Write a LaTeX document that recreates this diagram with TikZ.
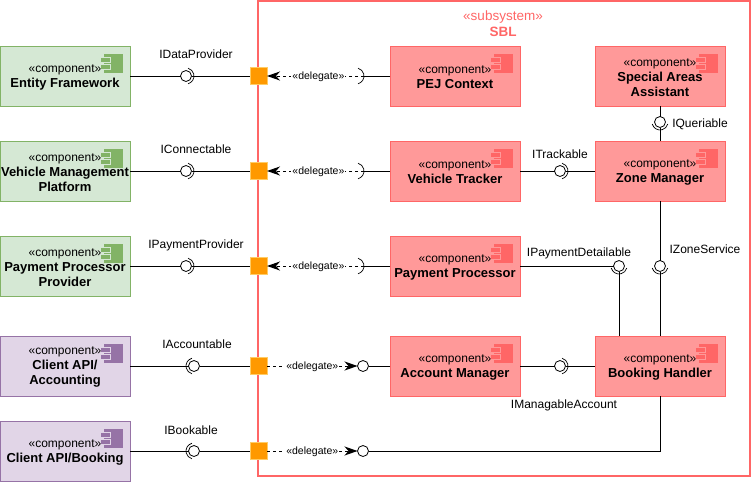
\documentclass[tikz,border=0pt]{standalone}
\usepackage{fontspec}
\setmainfont{Liberation Sans}
\usetikzlibrary{positioning,arrows.meta}

\definecolor{redfill}{HTML}{FF9999}
\definecolor{redline}{HTML}{FF6666}
\definecolor{greenfill}{HTML}{D5E8D4}
\definecolor{greenline}{HTML}{82B366}
\definecolor{purplefill}{HTML}{E1D5E7}
\definecolor{purpleline}{HTML}{9673A6}
\definecolor{portfill}{HTML}{FF9900}
\definecolor{portline}{HTML}{FFCC66}

\newcommand{\socket}[2]{\draw[line width=0.7pt] (#1.center) ++({#2-75}:8pt) arc[start angle={#2-75}, end angle={#2+75}, radius=8pt];}
\newcommand{\nm}{\fontsize{13}{15}\bfseries\selectfont}
\newcommand{\comp}[1]{\rule{0pt}{10.5pt}\guillemotleft component\guillemotright\\\nm #1}

\begin{document}
\begin{tikzpicture}[
    x=1pt, y=1pt,
    node distance=35pt and 260pt,
    line width=1pt,
    >={Stealth[length=13pt,width=9pt,inset=4pt]},
    every node/.style={font=\fontsize{12}{15}\selectfont, align=center},
    block/.style={
        draw,
        outer sep=0pt,
        minimum width=130pt,
        minimum height=60pt,
        inner sep=0pt,
        path picture={
            \coordinate (ne) at (path picture bounding box.north east);
            \fill[#1line] ([shift={(-26pt,-8pt)}]ne) rectangle ([shift={(-7pt,-27pt)}]ne);
            \foreach \ty in {-11,-18.5}
                \filldraw[#1line, draw=#1fill, line width=0.8pt] ([shift={(-30pt,\ty pt)}]ne) rectangle ([shift={(-20pt,\ty pt-5pt)}]ne);
        },
        draw=#1line, fill=#1fill
    },
    port/.style={draw=portline, fill=portfill, outer sep=0pt, inner sep=0pt, minimum size=17pt},
    iface/.style={circle, draw, fill=white, outer sep=0pt, inner sep=0pt, line width=0.8pt, minimum size=11pt},
    dlg/.style={dashed, dash pattern=on 3pt off 3pt},
    dlgtext/.style={fill=white, inner sep=1pt, yshift=-0.5pt, font=\fontsize{10.5}{12}\selectfont},
    ilabel/.style={yshift=-1pt}
]
\useasboundingbox (0,0) rectangle (752,-483);
\draw[redline, line width=2pt] (258,-1) rectangle (750,-476);
\node[text=redline, font=\fontsize{13.5}{16}\selectfont] (sbl) at (503,-24) {\guillemotleft subsystem\guillemotright\\\bfseries SBL};

% outside
\node[block=green] (entity) at (65,-76) {\comp{Entity Framework}};
\node[block=green, below=of entity] (vehicle) {\comp{Vehicle Management\\\nm Platform}};
\node[block=green, below=of vehicle] (payment) {\comp{Payment Processor\\\nm Provider}};
\node[block=purple, below=40pt of payment] (accounting) {\comp{Client API/\\\nm Accounting}};
\node[block=purple, below=25pt of accounting] (booking) {\comp{Client API/Booking}};

% inside
\node[block=red, right=of entity] (pej) {\comp{PEJ Context}};
\node[block=red, right=of vehicle] (tracker) {\comp{Vehicle Tracker}};
\node[block=red, right=of payment] (processor) {\comp{Payment Processor}};
\node[block=red, right=of accounting] (account) {\comp{Account Manager}};
\node[block=red, right=75pt of pej] (special) {\comp{Special Areas\\\nm Assistant}};
\node[block=red, right=75pt of tracker] (zone) {\comp{Zone Manager}};
\node[block=red, right=75pt of account] (handler) {\comp{Booking Handler}};

% ports
\node[port] (p1) at (258.5,-76) {};
\node[port] (p2) at (258.5,-171) {};
\node[port] (p3) at (258.5,-266) {};
\node[port] (p4) at (258.5,-366) {};
\node[port] (p5) at (258.5,-451) {};

% interfaces
\node[iface] (idata) at (186,-76) {};
\node[iface] (iconn) at (186,-171) {};
\node[iface] (ipay) at (186,-266) {};
\node[iface] (iacc) at (194,-366) {};
\node[iface] (ibook) at (194,-451) {};
\node[iface] (itrack) at (560,-171) {};
\node[iface] (iquery) at (660,-122) {};
\node[iface] (idetail) at (619,-266) {};
\node[iface] (izone) at (660,-266) {};
\node[iface] (imanage) at (560,-366) {};
\node[iface] (iaccin) at (363,-366) {};
\node[iface] (ibookin) at (363,-451) {};

\coordinate (s1) at (364,-76);
\coordinate (s2) at (364,-171);
\coordinate (s3) at (364,-266);
\coordinate (corner) at (660,-451);

\draw (entity) -- (idata) -- (p1);
\draw (vehicle) -- (iconn) -- (p2);
\draw (payment) -- (ipay) -- (p3);
\draw (accounting) -- (iacc) -- (p4);
\draw (booking) -- (ibook) -- (p5);
\draw (pej) -- (s1);
\draw (tracker) -- (s2);
\draw (processor) -- (s3);
\draw (tracker) -- (itrack) -- (zone);
\draw (special) -- (iquery) -- (zone);
\draw (processor) -- (idetail);
\draw (idetail) -- (idetail |- handler.north);
\draw (zone) -- (izone) -- (handler);
\draw (account) -- (iaccin);
\draw (account) -- (imanage) -- (handler);
\draw (ibookin) -- (corner) -- (handler);

\draw[->, dlg] (s1) -- node[dlgtext, pos=0.47] (d1) {\guillemotleft delegate\guillemotright} (p1);
\draw[->, dlg] (s2) -- node[dlgtext, pos=0.47] (d2) {\guillemotleft delegate\guillemotright} (p2);
\draw[->, dlg] (s3) -- node[dlgtext, pos=0.47] (d3) {\guillemotleft delegate\guillemotright} (p3);
\draw[->, dlg] (p4) -- node[dlgtext] (d4) {\guillemotleft delegate\guillemotright} (iaccin);
\draw[->, dlg] (p5) -- node[dlgtext] (d5) {\guillemotleft delegate\guillemotright} (ibookin);

\socket{idata}{0}
\socket{iconn}{0}
\socket{ipay}{0}
\socket{iacc}{180}
\socket{ibook}{180}
\socket{itrack}{0}
\socket{iquery}{-90}
\socket{idetail}{-90}
\socket{izone}{-90}
\socket{imanage}{0}
\draw[line width=0.7pt] (s1) ++(-8pt,0) ++(-75:8pt) arc[start angle=-75, end angle=75, radius=8pt];
\draw[line width=0.7pt] (s2) ++(-8pt,0) ++(-75:8pt) arc[start angle=-75, end angle=75, radius=8pt];
\draw[line width=0.7pt] (s3) ++(-8pt,0) ++(-75:8pt) arc[start angle=-75, end angle=75, radius=8pt];

% interface labels
\node[ilabel] (ldata) at (196,-53) {IDataProvider};
\node[ilabel] (lconn) at (196,-148) {IConnectable};
\node[ilabel] (lpay) at (196,-244) {IPaymentProvider};
\node[ilabel] (lacc) at (197,-343) {IAccountable};
\node[ilabel] (lbook) at (191,-429) {IBookable};
\node[ilabel] (ltrack) at (560,-153) {ITrackable};
\node[ilabel] (lquery) at (700,-123) {IQueriable};
\node[ilabel] (ldetail) at (579,-252) {IPaymentDetailable};
\node[ilabel] (lzone) at (705,-248) {IZoneService};
\node[ilabel] (lmanage) at (564,-404) {IManagableAccount};
\end{tikzpicture}
\end{document}
